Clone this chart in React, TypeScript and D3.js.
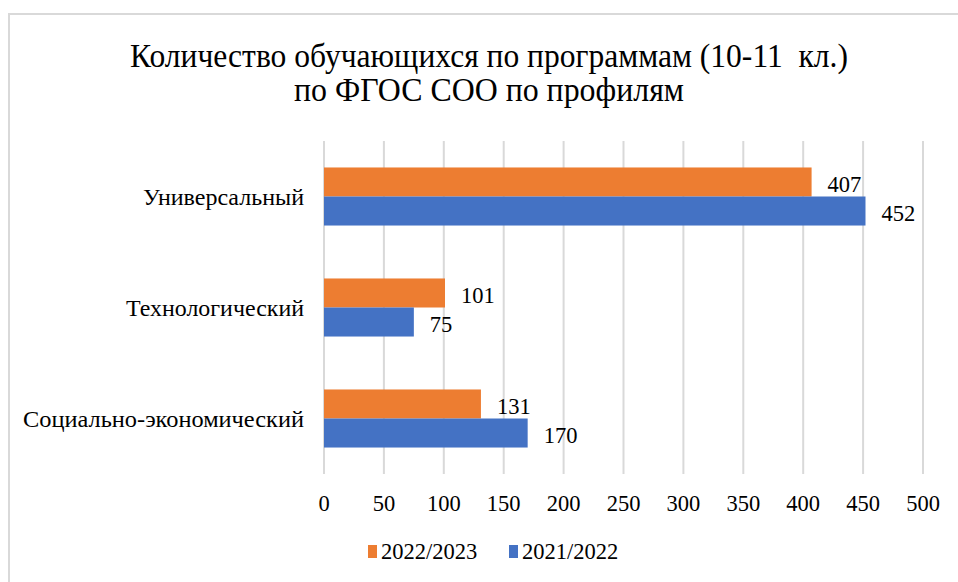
import React from "react";
import * as d3 from "d3";

const categories = ["Универсальный", "Технологический", "Социально-экономический"];
const seriesNames = ["2022/2023", "2021/2022"];
const values2022_2023 = [407, 101, 131];
const values2021_2022 = [452, 75, 170];
const xTicks = [0, 50, 100, 150, 200, 250, 300, 350, 400, 450, 500];
const titleLines = ["Количество обучающихся по программам (10-11  кл.)", "по ФГОС СОО по профилям"];
const colors = ["#ED7D31", "#4472C4"];

const FONT = "'Liberation Serif', 'Times New Roman', serif";

export default function App() {
  const W = 958, H = 582;
  const x = d3.scaleLinear().domain([0, 500]).range([324, 923]);
  const y = d3.scaleBand<string>().domain(categories).range([141, 474]).paddingInner(0.477).paddingOuter(0.2385);
  const inner = d3.scaleBand<string>().domain(seriesNames).range([0, y.bandwidth()]);
  const series = [values2022_2023, values2021_2022];
  const ts = { fontFamily: FONT, whiteSpace: "pre" as const };
  const titleLens = [718, 390];
  const catLens = [161, 178, 281];
  const numSize = 22.5;

  return (
    <div style={{ position: "absolute", left: 0, top: 0 }}>
      <svg width={W} height={H} style={{ display: "block" }}>
        <rect x={0} y={0} width={W} height={H} fill="#fff" />
        <rect x={9} y={14} width={970} height={620} fill="#fff" stroke="#D9D9D9" strokeWidth={2} />
        {titleLines.map((t, i) => (
          <text key={i} x={489} y={67 + i * 34} textAnchor="middle" fontSize={34} fill="#000" style={ts}
            textLength={titleLens[i]} lengthAdjust="spacingAndGlyphs">{t}</text>
        ))}
        {xTicks.map((t) => (
          <line key={t} x1={x(t)} x2={x(t)} y1={141} y2={474} stroke="#D9D9D9" strokeWidth={2} />
        ))}
        {xTicks.map((t) => (
          <text key={t} x={x(t)} y={511} textAnchor="middle" fontSize={numSize} fill="#000" style={ts}>{t}</text>
        ))}
        {categories.map((c, i) => (
          <text key={c} x={304} y={(y(c) as number) + y.bandwidth() / 2 + 8} textAnchor="end" fontSize={23} fill="#000" style={ts}
            textLength={catLens[i]} lengthAdjust="spacingAndGlyphs">{c}</text>
        ))}
        {series.map((vals, si) =>
          vals.map((v, ci) => {
            const c = categories[ci];
            const by = (y(c) as number) + (inner(seriesNames[si]) as number);
            const bh = inner.bandwidth();
            return (
              <g key={`${si}-${ci}`}>
                <rect x={x(0)} y={by} width={x(v) - x(0)} height={bh} fill={colors[si]} />
                <text x={x(v) + 16} y={by + bh / 2 + 10} fontSize={numSize} fill="#000" style={ts}>{v}</text>
              </g>
            );
          })
        )}
        {seriesNames.map((s, i) => {
          const lx = [368, 509][i];
          return (
            <g key={s}>
              <rect x={lx} y={545} width={9} height={13} fill={colors[i]} />
              <text x={lx + 13} y={559} fontSize={numSize} fill="#000" style={ts}>{s}</text>
            </g>
          );
        })}
      </svg>
    </div>
  );
}
